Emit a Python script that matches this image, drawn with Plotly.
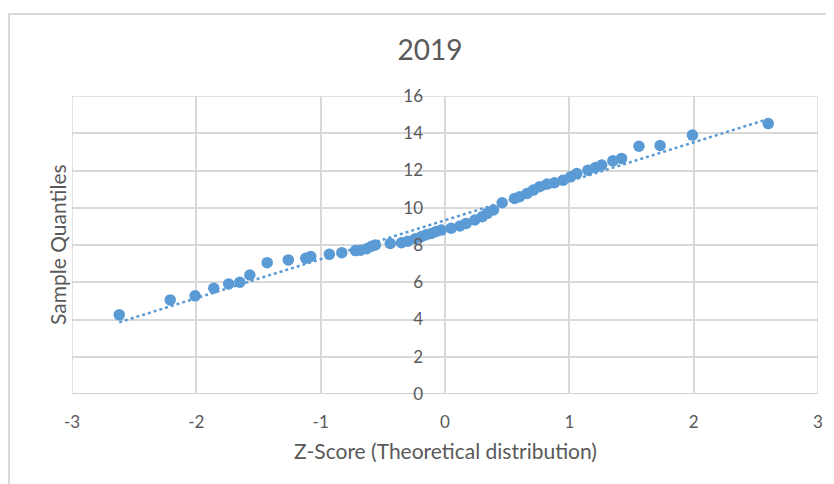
import numpy as np
import plotly.graph_objects as go

# Theoretical z-scores and sample quantiles
z_scores = [-2.62, -2.21, -2.01, -1.86, -1.74, -1.65, -1.57, -1.43, -1.26, -1.12,
            -1.08, -0.93, -0.83, -0.72, -0.68, -0.63, -0.59, -0.56, -0.44, -0.35,
            -0.30, -0.24, -0.19, -0.15, -0.11, -0.07, -0.03, 0.05, 0.12, 0.17,
            0.24, 0.30, 0.34, 0.39, 0.46, 0.56, 0.60, 0.66, 0.71, 0.76,
            0.82, 0.88, 0.95, 1.01, 1.06, 1.15, 1.21, 1.26, 1.35, 1.42,
            1.56, 1.73, 1.99, 2.60]
sample_q = [4.25, 5.05, 5.27, 5.68, 5.91, 6.00, 6.39, 7.05, 7.20, 7.29,
            7.38, 7.50, 7.59, 7.70, 7.72, 7.80, 7.93, 8.00, 8.08, 8.12,
            8.20, 8.33, 8.45, 8.55, 8.62, 8.73, 8.80, 8.90, 9.02, 9.16,
            9.34, 9.52, 9.70, 9.88, 10.27, 10.50, 10.59, 10.77, 10.95, 11.13,
            11.27, 11.34, 11.48, 11.66, 11.84, 12.02, 12.16, 12.29, 12.52, 12.65,
            13.30, 13.34, 13.90, 14.52]

x_ticks = [-3, -2, -1, 0, 1, 2, 3]
x_tick_labels = ["-3", "-2", "-1", "0", "1", "2", "3"]
y_ticks = [0, 2, 4, 6, 8, 10, 12, 14, 16]

title_text = "2019"
x_title = "Z-Score (Theoretical distribution)"
y_title = "Sample Quantiles"

blue = "#5b9bd5"
grid = "#d9d9d9"
axis_grey = "#c8c8c8"
txt = "#595959"
font_family = "Lato, 'Open Sans', sans-serif"

# linear trendline (least squares)
slope, intercept = np.polyfit(z_scores, sample_q, 1)
tx = [min(z_scores), max(z_scores)]
ty = [intercept + slope * v for v in tx]

fig = go.Figure()
fig.add_trace(go.Scatter(x=tx, y=ty, mode="lines",
                         line=dict(color=blue, width=2.5, dash="dot"),
                         hoverinfo="skip", showlegend=False))
fig.add_trace(go.Scatter(x=z_scores, y=sample_q, mode="markers",
                         marker=dict(color=blue, size=11.5),
                         showlegend=False))

# page body has an 8px margin, so the figure is 826x476 and offsets are shifted
fig.update_layout(
    width=826, height=476,
    margin=dict(l=64, r=16, t=88, b=90, autoexpand=False),
    paper_bgcolor="white", plot_bgcolor="white",
    font=dict(family=font_family, color=txt),
    title=dict(text=title_text, x=0.5109, xanchor="center", y=0.9118, yanchor="middle",
               font=dict(size=28, color=txt, family=font_family)),
    xaxis=dict(range=[-3, 3], tickvals=x_ticks, ticktext=x_tick_labels,
               showgrid=True, gridcolor=grid, gridwidth=1.5, zeroline=False,
               showline=False, ticks="", automargin=False, ticklabelstandoff=16,
               tickfont=dict(size=17, color=txt)),
    yaxis=dict(range=[0, 16], tickvals=y_ticks, showgrid=True, gridcolor=grid,
               gridwidth=1.5, zeroline=False, showline=False, ticks="",
               anchor="free", position=0.5, ticklabelstandoff=22, automargin=False,
               tickfont=dict(size=17, color=txt)),
    annotations=[
        dict(text=y_title, xref="paper", yref="paper", x=-0.0201, y=0.5,
             textangle=-90, showarrow=False, xanchor="center", yanchor="middle",
             font=dict(size=21, color=txt)),
        dict(text=x_title, xref="paper", yref="paper", x=0.5, y=-0.188,
             showarrow=False, xanchor="center", yanchor="middle",
             font=dict(size=21, color=txt)),
    ],
    shapes=[
        dict(type="rect", xref="paper", yref="paper", x0=-0.0845, x1=1.05,
             y0=-0.35, y1=1.275, line=dict(color=grid, width=2), layer="below"),
        dict(type="rect", xref="x", yref="y", x0=-3, x1=3, y0=0, y1=16,
             line=dict(color=grid, width=1.5), layer="below"),
        dict(type="line", xref="x", yref="y", x0=0, x1=0, y0=0, y1=16,
             line=dict(color=axis_grey, width=1.5), layer="below"),
        dict(type="line", xref="x", yref="y", x0=-3, x1=3, y0=0, y1=0,
             line=dict(color=axis_grey, width=1.5), layer="below"),
    ],
)

fig.write_html("out.html")
